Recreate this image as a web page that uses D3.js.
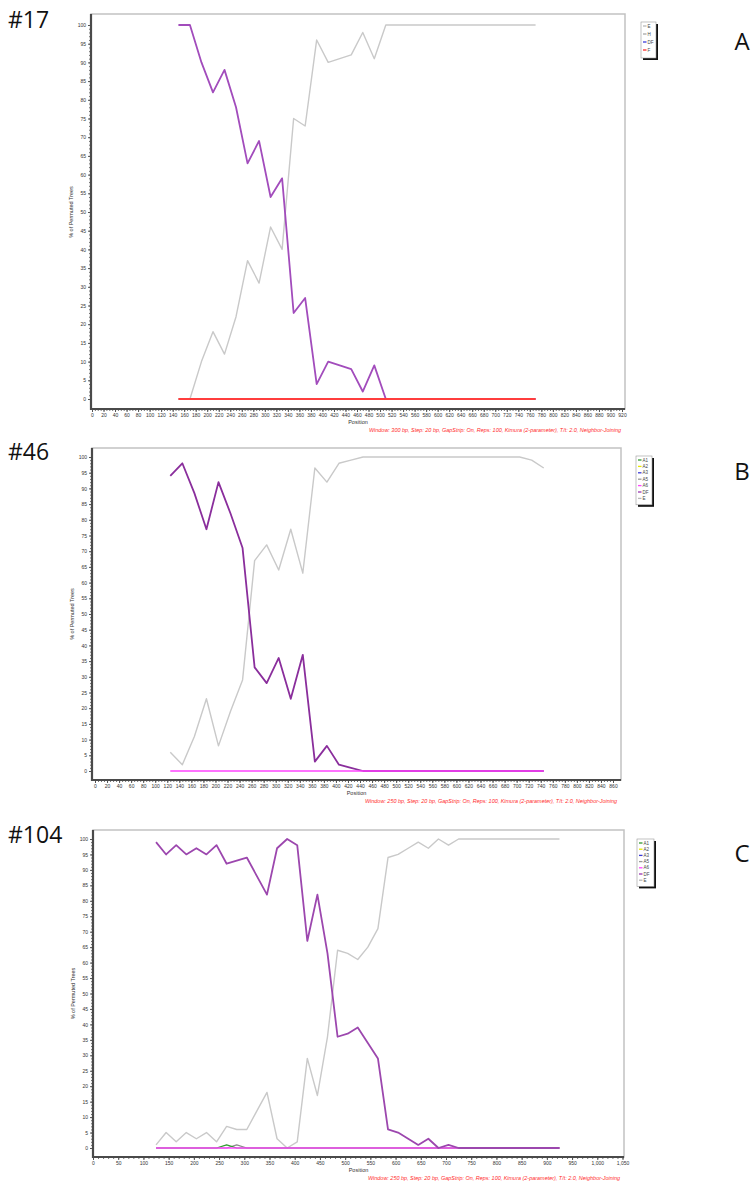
<!DOCTYPE html>
<html>
<head>
<meta charset="utf-8">
<script src="https://cdn.jsdelivr.net/npm/d3@7"></script>
<style>
  body { margin: 0; background: #fff; }
  svg { display: block; }
</style>
</head>
<body>
<svg id="chart" width="754" height="1184"></svg>
<script>
// ---- panel A (#17), window 300 bp ----
const posA = [150,170,190,210,230,250,270,290,310,330,350,370,390,410,430,450,
              470,490,510,530,550,570,590,610,630,650,670,690,710,730,750,770];
const hA  = [0,0,10,18,12,22,37,31,46,40,75,73,96,90,91,92,
             98,91,100,100,100,100,100,100,100,100,100,100,100,100,100,100];
const dfA = [100,100,90,82,88,78,63,69,54,59,23,27,4,10,9,8,
             2,9,0,0,0,0,0,0,0,0,0,0,0,0,0,0];
const eA  = posA.map(() => 0);
const fA  = posA.map(() => 0);

// ---- panel B (#46), window 250 bp ----
const posB = [125,145,165,185,205,225,245,265,285,305,325,345,365,385,405,425,
              445,465,485,505,525,545,565,585,605,625,645,665,685,705,725,745];
const eB  = [6,2,11,23,8,19,29,67,72,64,77,63,96.5,92,98,99,
             100,100,100,100,100,100,100,100,100,100,100,100,100,100,99,96.5];
const dfB = [94,98,88.5,77,92,82,71,33,28,36,23,37,3,8,2,1,
             0,0,0,0,0,0,0,0,0,0,0,0,0,0,0,0];
const a6B = posB.map(() => 0);

// ---- panel C (#104), window 250 bp ----
const posC = [125,145,165,185,205,225,245,265,285,305,325,345,365,385,405,425,445,465,485,505,
              525,545,565,585,605,625,645,665,685,705,725,745,765,785,805,825,845,865,885,905,925];
const eC  = [1,5,2,5,3,5,2,7,6,6,12,18,3,0,2,29,17,36,64,63,
             61,65,71,94,95,97,99,97,100,98,100,100,100,100,100,100,100,100,100,100,100];
const dfC = [99,95,98,95,97,95,98,92,93,94,88,82,97,100,98,67,82,63,36,37,
             39,34,29,6,5,3,1,3,0,1,0,0,0,0,0,0,0,0,0,0,0];
const a1C = [0,0,0,0,0,0,0,1,0,0,0,0,0,0,0,0,0,0,0,0,
             0,0,0,0,0,0,0,0,0,0,0,0,0,0,0,0,0,0,0,0,0];
const a5C = [0,0,0,0,0,0,0,0,1,0,0,0,0,0,0,0,0,0,0,0,
             0,0,0,0,0,0,0,0,0,0,0,0,0,0,0,0,0,0,0,0,0];
const a6C = posC.map(() => 0);

// tick labels
const yTicks = d3.range(0, 101, 5);
const xTicksA = d3.range(0, 921, 20);
const xTicksB = d3.range(0, 861, 20);
const xTicksC = d3.range(0, 1051, 50);

const legendA = ["E", "H", "DF", "F"];
const legendBC = ["A1", "A2", "A3", "A5", "A6", "DF", "E"];

const captionA = "Window: 300 bp, Step: 20 bp, GapStrip: On, Reps: 100, Kimura (2-parameter), T/t: 2.0, Neighbor-Joining";
const captionBC = "Window: 250 bp, Step: 20 bp, GapStrip: On, Reps: 100, Kimura (2-parameter), T/t: 2.0, Neighbor-Joining";

const colors = {
  E: "#c9c9c9", H: "#c9c9c9", F: "#ff3d3d", A6: "#ff45ff",
  A1: "#2f9a2f", A2: "#e6e600", A3: "#3a3ad6", A5: "#8a8a8a"
};
const swatch = {
  E: "#b8b8b8", H: "#a8a8a8", DF: "#3b3bd8", F: "#ff2a2a",
  A1: "#2f9a2f", A2: "#e6e600", A3: "#3a3ad6", A5: "#999", A6: "#ff45ff", DFp: "#9a35b0"
};

const svg = d3.select("#chart");
const tickFont = "Liberation Sans, Arial, sans-serif";

function drawPanel(p) {
  const g = svg.append("g");
  const [fl, ft, fr, fb] = p.frame;

  const x = d3.scaleLinear().domain([0, p.xMax]).range(p.xRange);
  const y = d3.scaleLinear().domain([0, 100]).range([p.y0, p.y100]);

  // frame
  g.append("rect")
    .attr("x", fl).attr("y", ft)
    .attr("width", fr - fl).attr("height", fb - ft)
    .attr("fill", "#fff")
    .attr("stroke", "#c2c2c2").attr("stroke-width", 1.5);

  // minor ticks (gives the dotted look on the spines)
  g.append("g")
    .attr("transform", `translate(${fl},0)`)
    .call(d3.axisLeft(y).tickValues(d3.range(0, 101, 1)).tickSize(2).tickFormat(""))
    .call(a => a.select(".domain").remove())
    .selectAll("line").attr("stroke", "#777");
  g.append("g")
    .attr("transform", `translate(0,${fb})`)
    .call(d3.axisBottom(x).tickValues(d3.range(0, p.xMax + 1, p.xMinor)).tickSize(2).tickFormat(""))
    .call(a => a.select(".domain").remove())
    .selectAll("line").attr("stroke", "#777");

  // major y axis
  const yAx = g.append("g")
    .attr("transform", `translate(${fl},0)`)
    .call(d3.axisLeft(y).tickValues(yTicks).tickSize(3).tickPadding(2));
  yAx.select(".domain").remove();
  yAx.selectAll("line").attr("stroke", "#555");
  yAx.selectAll("text").attr("font-size", 5).attr("font-family", tickFont).attr("fill", "#333");

  // major x axis
  const xAx = g.append("g")
    .attr("transform", `translate(0,${fb})`)
    .call(d3.axisBottom(x).tickValues(p.xTicks).tickSize(3).tickPadding(1.5).tickFormat(d3.format(",")));
  xAx.select(".domain").remove();
  xAx.selectAll("line").attr("stroke", "#555");
  xAx.selectAll("text").attr("font-size", 5).attr("font-family", tickFont).attr("fill", "#333");

  // spines
  g.append("line").attr("x1", fl).attr("x2", fl).attr("y1", ft).attr("y2", fb + 1)
    .attr("stroke", "#4a4a4a").attr("stroke-width", 2.2);
  g.append("line").attr("x1", fl - 1).attr("x2", fr).attr("y1", fb).attr("y2", fb)
    .attr("stroke", "#4a4a4a").attr("stroke-width", 2.2);

  // series
  p.series.forEach(s => {
    const line = d3.line()
      .x((d, i) => x(p.pos[i]))
      .y(d => y(d));
    g.append("path")
      .datum(s.values)
      .attr("fill", "none")
      .attr("stroke", s.color)
      .attr("stroke-width", s.width)
      .attr("stroke-linejoin", "round")
      .attr("d", line);
  });

  // axis titles
  g.append("text")
    .attr("x", (fl + fr) / 2).attr("y", fb + 15)
    .attr("text-anchor", "middle")
    .attr("font-size", 5.5).attr("font-family", tickFont).attr("fill", "#333")
    .text("Position");
  g.append("text")
    .attr("transform", `translate(${fl - 18},${(p.y0 + p.y100) / 2}) rotate(-90)`)
    .attr("text-anchor", "middle")
    .attr("font-size", 5.5).attr("font-family", tickFont).attr("fill", "#333")
    .text("% of Permuted Trees");

  // red caption
  g.append("text")
    .attr("x", fr - 4).attr("y", fb + 23)
    .attr("text-anchor", "end")
    .attr("font-size", 5.2).attr("font-style", "italic")
    .attr("font-family", tickFont).attr("fill", "#ff2b2b")
    .attr("textLength", 252).attr("lengthAdjust", "spacingAndGlyphs")
    .text(p.caption);

  // legend
  const L = p.legend;
  const lw = L.w, lh = L.step * L.items.length + 4;
  g.append("rect").attr("x", L.x + 2).attr("y", L.y + 2).attr("width", lw).attr("height", lh)
    .attr("fill", "#111");
  g.append("rect").attr("x", L.x).attr("y", L.y).attr("width", lw).attr("height", lh)
    .attr("fill", "#fff").attr("stroke", "#999").attr("stroke-width", 0.6);
  L.items.forEach((it, i) => {
    const yy = L.y + 4 + L.step * i;
    g.append("line").attr("x1", L.x + 2).attr("x2", L.x + 5.5).attr("y1", yy).attr("y2", yy)
      .attr("stroke", it.color).attr("stroke-width", 1.3);
    g.append("text").attr("x", L.x + 6.5).attr("y", yy + 1.6)
      .attr("font-size", 4.5).attr("font-family", tickFont).attr("fill", "#444")
      .text(it.name);
  });

  // sample id and panel letter
  svg.append("text")
    .attr("x", 8).attr("y", p.idY)
    .attr("font-size", 23).attr("font-family", "Open Sans, sans-serif")
    .attr("fill", "#111")
    .text(p.id);
  svg.append("text")
    .attr("x", 742).attr("y", p.letterY)
    .attr("text-anchor", "middle")
    .attr("font-size", 24).attr("font-family", "Open Sans, sans-serif")
    .attr("fill", "#111")
    .text(p.letter);
}

drawPanel({
  id: "#17", idY: 28, letter: "A", letterY: 50,
  frame: [91, 14, 625, 409],
  xMax: 920, xRange: [92, 622], xTicks: xTicksA, xMinor: 5,
  y0: 399, y100: 25,
  pos: posA,
  series: [
    { values: eA, color: colors.E, width: 1.4 },
    { values: hA, color: colors.H, width: 1.4 },
    { values: dfA, color: "#a24cbc", width: 1.8 },
    { values: fA, color: colors.F, width: 1.8 }
  ],
  legend: { x: 641, y: 22, w: 15, step: 8,
    items: legendA.map(n => ({ name: n, color: swatch[n] })) },
  caption: captionA
});

drawPanel({
  id: "#46", idY: 460, letter: "B", letterY: 480,
  frame: [92, 448, 621, 780],
  xMax: 860, xRange: [95, 613], xTicks: xTicksB, xMinor: 5,
  y0: 771, y100: 457,
  pos: posB,
  series: [
    { values: eB, color: colors.E, width: 1.4 },
    { values: dfB, color: "#8a2e9c", width: 1.8 },
    { values: a6B, color: colors.A6, width: 1.6 }
  ],
  legend: { x: 636, y: 456, w: 16, step: 6.4,
    items: legendBC.map(n => ({ name: n, color: n === "DF" ? swatch.DFp : swatch[n] })) },
  caption: captionBC
});

drawPanel({
  id: "#104", idY: 843, letter: "C", letterY: 862,
  frame: [93, 830, 624, 1157],
  xMax: 1050, xRange: [93, 622.5], xTicks: xTicksC, xMinor: 10,
  y0: 1148, y100: 839,
  pos: posC,
  series: [
    { values: eC, color: colors.E, width: 1.4 },
    { values: a5C, color: colors.A5, width: 1.2 },
    { values: a1C, color: colors.A1, width: 1.2 },
    { values: a6C, color: colors.A6, width: 1.6 },
    { values: dfC, color: "#9c47ae", width: 1.8 }
  ],
  legend: { x: 637, y: 839, w: 17, step: 6.2,
    items: legendBC.map(n => ({ name: n, color: n === "DF" ? swatch.DFp : swatch[n] })) },
  caption: captionBC
});
</script>
</body>
</html>
